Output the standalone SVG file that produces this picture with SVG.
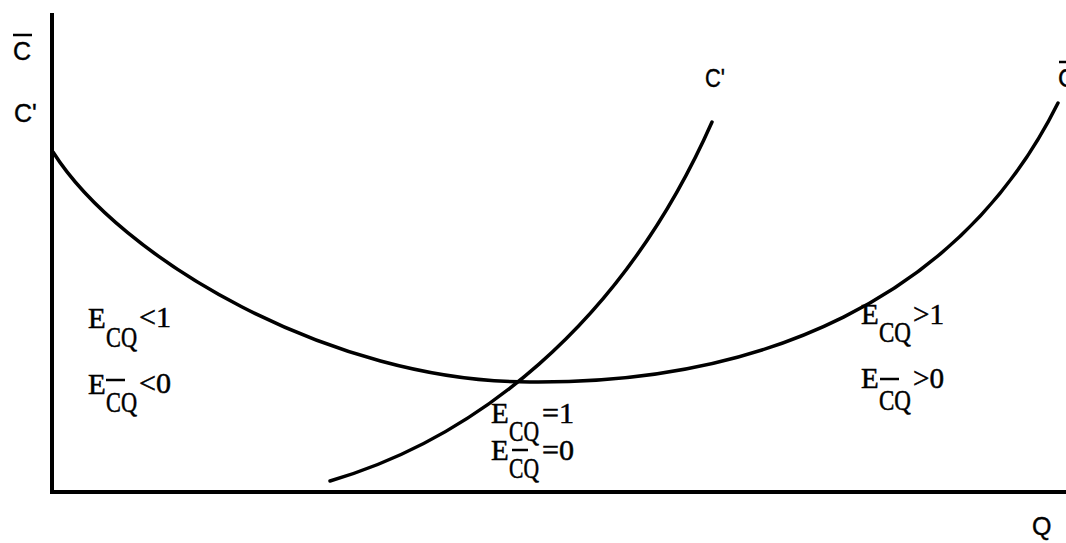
<svg xmlns="http://www.w3.org/2000/svg" width="1066" height="543" viewBox="0 0 1066 543">
<style>
.ax{stroke:#000;stroke-width:4;fill:none}
.cv{stroke:#000;stroke-width:3.5;fill:none;stroke-linecap:round}
.bar{stroke:#000;stroke-width:2.5}
.lab{font-family:"Liberation Sans",Arial,sans-serif;font-size:25px;fill:#000;stroke:#000;stroke-width:0.4}
.e{font-family:"Liberation Serif","Times New Roman",serif;font-size:29px;fill:#000;stroke:#000;stroke-width:0.5}
</style>
<rect width="1066" height="543" fill="#fff"/>
<g id="axes">
<line class="ax" x1="52" y1="13" x2="52" y2="494"/>
<line class="ax" x1="50" y1="492" x2="1066" y2="492"/>
</g>
<g id="connectors">
<path id="curve-cbar" class="cv" d="M53,152 C120,258 330,382 530,382 C760,384 960,300 1058,103"/>
<path id="curve-cprime" class="cv" d="M330,481 C470,440 620,330 712,122"/>
</g>
<g id="axis-labels">
<g id="label-cbar-left"><text class="lab" x="13" y="60">C</text><line class="bar" x1="13" y1="35" x2="32" y2="35"/></g>
<text id="label-cprime-left" class="lab" x="14" y="122">C'</text>
<text id="label-cprime-top" class="lab" x="705" y="87" font-size="27" textLength="20" lengthAdjust="spacingAndGlyphs">C'</text>
<g id="label-cbar-right"><text class="lab" x="1058" y="87" font-size="27">C</text><line class="bar" x1="1059" y1="62" x2="1066" y2="62"/></g>
<text id="label-q" class="lab" x="1032" y="535" font-size="24">Q</text>
</g>
<g id="region-left">
<text class="e" x="88" y="328">E</text>
<text class="e" x="106" y="347" textLength="31" lengthAdjust="spacingAndGlyphs">CQ</text>
<text class="e" x="139" y="327" textLength="32" lengthAdjust="spacingAndGlyphs">&lt;1</text>
<text class="e" x="88" y="394">E</text>
<line class="bar" x1="106" y1="380" x2="125" y2="380"/>
<text class="e" x="106" y="412" textLength="31" lengthAdjust="spacingAndGlyphs">CQ</text>
<text class="e" x="139" y="393" textLength="32" lengthAdjust="spacingAndGlyphs">&lt;0</text>
</g>
<g id="region-right">
<text class="e" x="861" y="324">E</text>
<text class="e" x="879" y="342" textLength="32" lengthAdjust="spacingAndGlyphs">CQ</text>
<text class="e" x="913" y="324" textLength="31" lengthAdjust="spacingAndGlyphs">&gt;1</text>
<text class="e" x="861" y="388">E</text>
<line class="bar" x1="880" y1="379" x2="899" y2="379"/>
<text class="e" x="879" y="410" textLength="32" lengthAdjust="spacingAndGlyphs">CQ</text>
<text class="e" x="913" y="388" textLength="31" lengthAdjust="spacingAndGlyphs">&gt;0</text>
</g>
<g id="region-center">
<text class="e" x="491" y="423">E</text>
<text class="e" x="509" y="441" textLength="30" lengthAdjust="spacingAndGlyphs">CQ</text>
<text class="e" x="542" y="423" textLength="32" lengthAdjust="spacingAndGlyphs">=1</text>
<text class="e" x="491" y="460">E</text>
<line class="bar" x1="512" y1="450" x2="528" y2="450"/>
<text class="e" x="509" y="478" textLength="30" lengthAdjust="spacingAndGlyphs">CQ</text>
<text class="e" x="542" y="460" textLength="32" lengthAdjust="spacingAndGlyphs">=0</text>
</g>
</svg>
